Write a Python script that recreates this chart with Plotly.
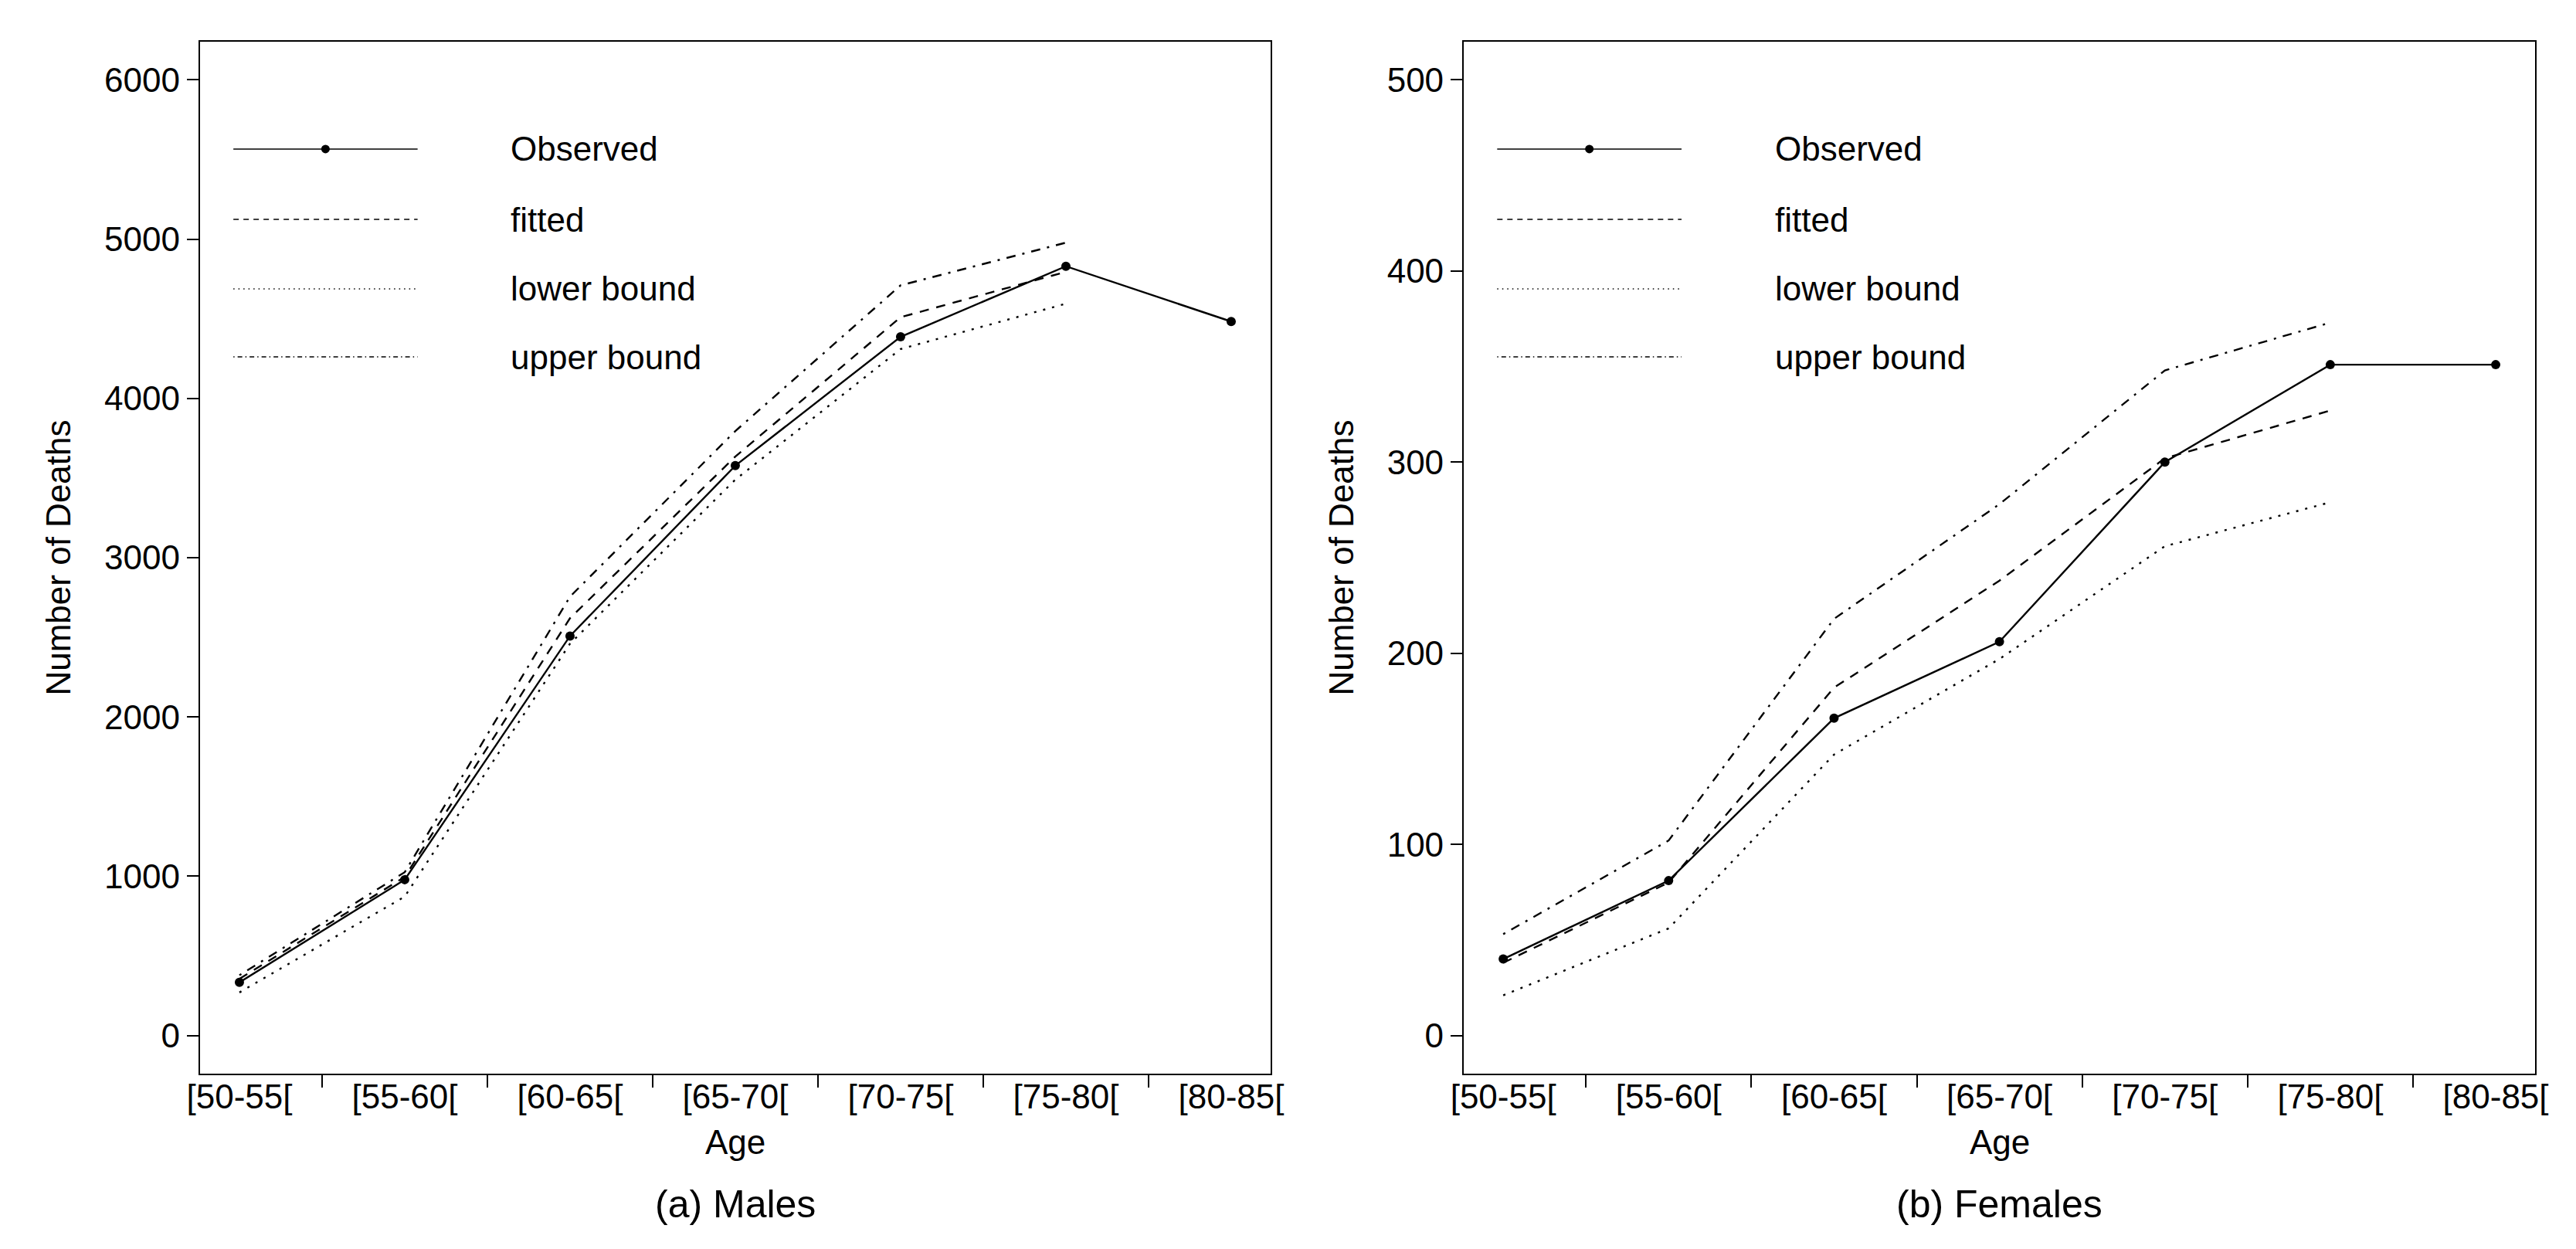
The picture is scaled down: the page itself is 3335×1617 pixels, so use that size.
import plotly.graph_objects as go

# ---------------- data ----------------
age_groups = ["[50-55[", "[55-60[", "[60-65[", "[65-70[", "[70-75[", "[75-80[", "[80-85["]

male_observed = [333, 978, 2508, 3578, 4387, 4830, 4483]
male_fitted = [355, 995, 2620, 3635, 4510, 4795, None]
male_lower = [270, 872, 2460, 3490, 4310, 4595, None]
male_upper = [378, 1025, 2755, 3795, 4710, 4978, None]

female_observed = [40, 81, 166, 206, 300, 351, 351]
female_fitted = [38, 80, 182, 238, 302, 327, None]
female_lower = [21, 56, 147, 197, 256, 279, None]
female_upper = [53, 102, 218, 278, 348, 373, None]

male_yticks = [0, 1000, 2000, 3000, 4000, 5000, 6000]
female_yticks = [0, 100, 200, 300, 400, 500]

legend_labels = ["Observed", "fitted", "lower bound", "upper bound"]
captions = ["(a) Males", "(b) Females"]
x_title = "Age"
y_title = "Number of Deaths"

# ---------------- style ----------------
W, H = 3335, 1617
FONT = "Liberation Sans, Arial, sans-serif"
FS = 44
LW = 2.4
DASHES = {"fitted": "12px,10px", "lower bound": "3px,9px", "upper bound": "3px,9px,12px,9px"}
LEG_DASHES = {"fitted": "7px,6px", "lower bound": "1.5px,5px", "upper bound": "1.5px,4px,6px,4px"}

# plot box pixel geometry
boxes = [(236, 1637), (1889, 3291)]
ytop, ybot = 46, 1382

fig = go.Figure()

panels = [
    ("x", "y", male_observed, male_fitted, male_lower, male_upper),
    ("x2", "y2", female_observed, female_fitted, female_lower, female_upper),
]

for xa, ya, obs, fit, lo, up in panels:
    fig.add_trace(go.Scatter(x=age_groups, y=obs, xaxis=xa, yaxis=ya, mode="lines+markers",
                             line=dict(color="black", width=LW),
                             marker=dict(color="black", size=12), showlegend=False,
                             name="Observed"))
    for nm, vals in (("fitted", fit), ("lower bound", lo), ("upper bound", up)):
        fig.add_trace(go.Scatter(x=age_groups, y=vals, xaxis=xa, yaxis=ya, mode="lines",
                                 line=dict(color="black", width=LW, dash=DASHES[nm]),
                                 showlegend=False, name=nm, connectgaps=False))

axis_common = dict(showline=True, mirror=True, linecolor="black", linewidth=1.7,
                   showgrid=False, zeroline=False, ticks="outside", tickcolor="black",
                   tickwidth=1.7, tickfont=dict(family=FONT, size=FS, color="black"))

def xdom(i):
    return [boxes[i][0] / W, boxes[i][1] / W]

ydom = [1 - ybot / H, 1 - ytop / H]

fig.update_layout(
    width=W, height=H,
    margin=dict(l=0, r=0, t=0, b=0),
    paper_bgcolor="white", plot_bgcolor="white",
    showlegend=False,
    font=dict(family=FONT, size=FS, color="black"),
    xaxis=dict(domain=xdom(0), type="category", categoryorder="array", categoryarray=age_groups,
               range=[-0.24, 6.24], tickson="boundaries", ticklen=16, anchor="y",
               ticklabelstandoff=-10, **axis_common),
    yaxis=dict(domain=ydom, range=[-240, 6240], tickvals=male_yticks, ticklen=15, anchor="x",
               title=dict(text=y_title, standoff=30, font=dict(family=FONT, size=FS)),
               **axis_common),
    xaxis2=dict(domain=xdom(1), type="category", categoryorder="array", categoryarray=age_groups,
                range=[-0.24, 6.24], tickson="boundaries", ticklen=16, anchor="y2",
                ticklabelstandoff=-10, **axis_common),
    yaxis2=dict(domain=ydom, range=[-20, 520], tickvals=female_yticks, ticklen=15, anchor="x2",
                title=dict(text=y_title, standoff=29, font=dict(family=FONT, size=FS)),
                **axis_common),
)

# manual legend (inside each panel, top-left)
rows_y = [0.8960, 0.8278, 0.7605, 0.6946]
lx0, lx1, ltxt = 0.0314, 0.2034, 0.289
shapes, annotations = [], []
for i, (xa, ya) in enumerate((("x", "y"), ("x2", "y2"))):
    xr, yr = f"{xa} domain", f"{ya} domain"
    for lab, ry in zip(legend_labels, rows_y):
        dash = "solid" if lab == "Observed" else LEG_DASHES[lab]
        shapes.append(dict(type="line", xref=xr, yref=yr, x0=lx0, x1=lx1, y0=ry, y1=ry,
                           line=dict(color="black", width=1.5, dash=dash)))
        annotations.append(dict(xref=xr, yref=yr, x=ltxt, y=ry, text=lab, showarrow=False,
                                xanchor="left", yanchor="middle",
                                font=dict(family=FONT, size=FS, color="black")))
    shapes.append(dict(type="circle", xref=xr, yref=yr, xsizemode="pixel", ysizemode="pixel",
                       xanchor=(lx0 + lx1) / 2, yanchor=rows_y[0], x0=-5.5, x1=5.5, y0=-5.5, y1=5.5,
                       fillcolor="black", line=dict(color="black", width=0)))
    cx = (boxes[i][0] + boxes[i][1]) / 2 / W
    # x-axis title
    annotations.append(dict(xref="paper", yref="paper", x=cx, y=1 - 1470 / H, text=x_title,
                            showarrow=False, xanchor="center", yanchor="middle",
                            font=dict(family=FONT, size=FS, color="black")))
    # panel caption
    annotations.append(dict(xref="paper", yref="paper", x=cx, y=1 - 1551 / H, text=captions[i],
                            showarrow=False, xanchor="center", yanchor="middle",
                            font=dict(family=FONT, size=50, color="black")))

fig.update_layout(shapes=shapes, annotations=annotations)

fig.write_html("out.html")
